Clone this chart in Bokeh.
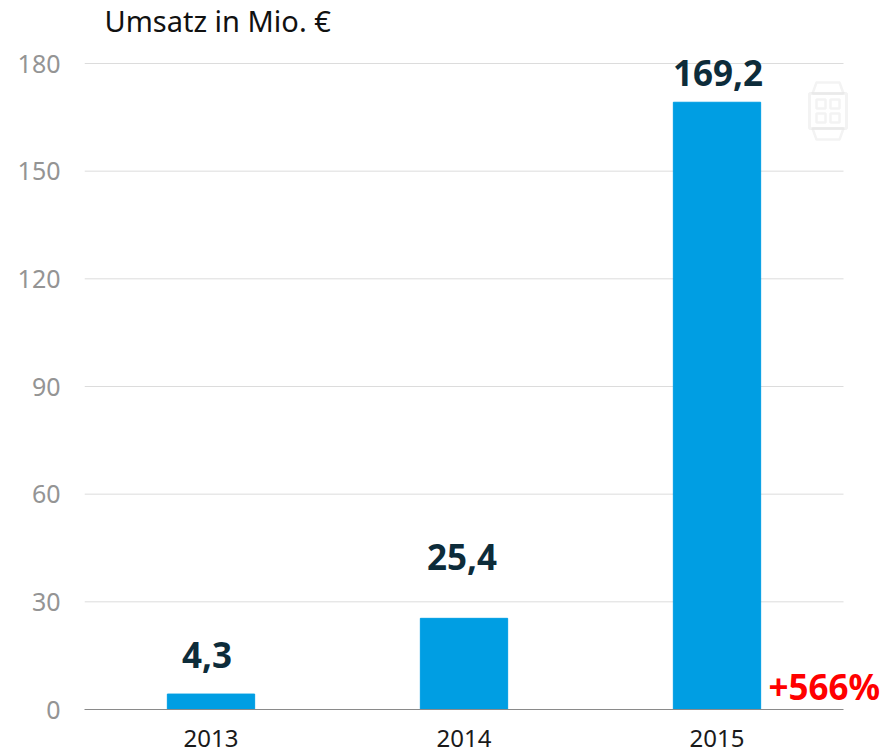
from bokeh.plotting import figure
from bokeh.models import ColumnDataSource, Range1d, Label, FixedTicker, PolyAnnotation
from bokeh.core.properties import value
from bokeh.embed import file_html
from bokeh.resources import INLINE

years = ["2013", "2014", "2015"]
revenue = [4.3, 25.4, 169.2]
revenue_labels = ["4,3", "25,4", "169,2"]
y_ticks = [0, 30, 60, 90, 120, 150, 180]
title_text = "Umsatz in Mio. €"
growth_text = "+566%"
label_gaps = [-39, -61, -29]
label_shifts = [-4, -2, 1]

FONT = "Noto Sans"
x_pos = [i + 0.5 for i in range(len(years))]
src = ColumnDataSource(dict(x=x_pos, revenue=revenue, label=revenue_labels,
                            gap=label_gaps, shift=label_shifts))

# The frame is larger than the visible plot so that the annotations outside it are not clipped.
p = figure(width=895, height=753, output_backend="svg", toolbar_location=None,
           x_range=Range1d(0, 809 / 253),
           y_range=Range1d(0, 180 * 709 / 646),
           min_border_left=84, min_border_right=2, min_border_top=0, min_border_bottom=44)
p.outline_line_color = None
p.background_fill_color = "white"
p.grid.grid_line_color = None

grid_y = [t for t in y_ticks if t > 0]
p.segment(x0=[0] * len(grid_y), x1=[len(years)] * len(grid_y), y0=grid_y, y1=grid_y,
          line_color="#dcdcdc", line_width=1, level="underlay")

p.yaxis.ticker = FixedTicker(ticks=y_ticks)
p.yaxis.axis_line_color = None
p.yaxis.major_tick_line_color = None
p.yaxis.minor_tick_line_color = None
p.yaxis.major_label_text_font = FONT
p.yaxis.major_label_text_font_size = "25px"
p.yaxis.major_label_text_color = "#949494"
p.yaxis.major_label_standoff = 18

p.xaxis.ticker = FixedTicker(ticks=x_pos)
p.xaxis.major_label_overrides = dict(zip(x_pos, years))
p.xaxis.bounds = (0, len(years))
p.xaxis.axis_line_color = "#8a8a8a"
p.xaxis.axis_line_width = 1
p.xaxis.major_tick_line_color = None
p.xaxis.minor_tick_line_color = None
p.xaxis.major_label_text_font = FONT
p.xaxis.major_label_text_font_size = "24px"
p.xaxis.major_label_text_color = "#1a1a1a"
p.xaxis.major_label_standoff = 14

p.vbar(x="x", top="revenue", width=0.345, source=src, color="#009EE3")
p.text(x="x", y="revenue", text="label", source=src, text_align="center",
       text_baseline="alphabetic", y_offset="gap", x_offset="shift",
       text_font=value(FONT), text_font_style="bold", text_font_size="35px",
       text_color="#0D2C3A")

p.add_layout(Label(x=104, y=20, x_units="canvas", y_units="canvas", text=title_text,
                   text_font=FONT, text_font_size="29px", text_color="#111111",
                   text_baseline="alphabetic"))
p.add_layout(Label(x=768, y=686, x_units="canvas", y_units="canvas", text=growth_text,
                   text_font=FONT, text_font_style="bold", text_font_size="35px",
                   text_color="#FF0000", text_baseline="alphabetic"))

# decorative smartwatch icon in canvas pixels
gray = "#d6d6d6"
def outline(xs, ys, width):
    p.add_layout(PolyAnnotation(xs=xs, ys=ys, xs_units="canvas", ys_units="canvas",
                                fill_color=None, fill_alpha=0,
                                line_color=gray, line_width=width))

outline([809, 846, 846, 809], [93, 93, 128, 128], 3)
outline([812, 816, 839, 843], [93, 82, 82, 93], 2.5)
outline([812, 816, 839, 843], [128, 139, 139, 128], 2.5)
for (a, b) in [(816, 99), (830, 99), (816, 113), (830, 113)]:
    outline([a, a + 9, a + 9, a], [b, b, b + 9, b + 9], 2.5)

open("out.html", "w").write(file_html(p, INLINE))
